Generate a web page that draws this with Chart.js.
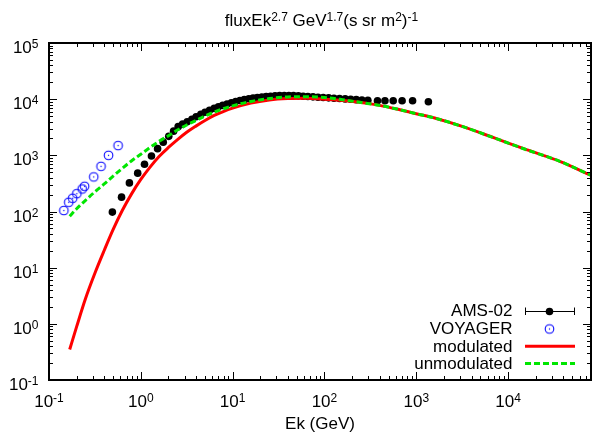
<!DOCTYPE html>
<html>
<head>
<meta charset="utf-8">
<script src="https://cdn.jsdelivr.net/npm/chart.js@4/dist/chart.umd.min.js"></script>
<style>
html,body{margin:0;padding:0;background:#fff;}
#wrap{width:597px;height:439px;position:relative;}
</style>
</head>
<body>
<div id="wrap"><canvas id="c"></canvas></div>
<script>
// ---- data ----
const amsE = [0.49,0.617,0.751,0.925,1.097,1.306,1.523,1.754,2.015,2.275,2.55,2.85,3.2,3.6,4.0,4.5,5.0,5.6,6.3,7.0,7.8,8.7,9.7,10.8,12.0,13.4,15.0,16.7,18.6,20.8,23.2,25.9,29.0,32.5,36.5,41,46,52,58.5,66,75,85,97,111,127,146,168,193,222,256,297,378,456,561,701,912,1355];
const amsF = [97.5,180,323,482,692,975,1315,1718,2178,2697,3243,3600,3950,4400,4850,5350,5850,6350,6850,7300,7750,8200,8650,9050,9450,9800,10150,10450,10700,10950,11150,11300,11450,11550,11600,11600,11550,11450,11300,11150,11000,10850,10700,10550,10400,10250,10100,9950,9800,9650,9550,9400,9400,9400,9400,9400,9000];

const voyE = [0.145,0.164,0.181,0.201,0.230,0.244,0.307,0.369,0.445,0.566];
const voyF = [104,146,172,208,252,281,413,637,1000,1489];

const modE = [0.168,0.2,0.25,0.316,0.4,0.5,0.63,0.79,1.0,1.26,1.58,2.0,2.51,3.16,3.98,5.0,6.3,7.9,10,15.8,25.1,39.8,63,100,158,251,398,631,1000,1585,3162,7079,15850,37150,79430];
const modF = [0.35,0.89,2.82,7.94,20.4,47.9,105,204,372,617,955,1380,1905,2570,3311,4169,5129,6026,6918,8511,9660,10230,10350,10000,9440,8710,7760,6610,5500,4620,3270,2040,1259,776,442];

const unmodE = [0.168,0.2,0.25,0.316,0.4,0.5,0.63,0.79,1.0,1.26,1.58,2.0,2.51,3.16,3.98,5.0,6.3,7.9,10,15.8,25.1,39.8,63,100,158,251,398,631,1000,1585,3162,7079,15850,37150,79430];
const unmodF = [82,112,158,224,309,427,589,794,1047,1380,1778,2239,2818,3467,4169,5012,5888,6761,7586,9120,10230,10960,11090,10720,9770,8710,7760,6610,5500,4620,3270,2040,1259,776,442];

const xTickExps = [-1,0,1,2,3,4];
const yTickExps = [-1,0,1,2,3,4,5];
const legendLabels = ['AMS-02','VOYAGER','modulated','unmodulated'];
const titleParts = [['fluxEk',0],['2.7',1],[' GeV',0],['1.7',1],['(s sr m',0],['2',1],[')',0],['-1',1]];
const xTitle = 'Ek (GeV)';

// ---- styling ----
const FONT = '"Liberation Sans", Arial, Helvetica, sans-serif';
const MAIN = '17px ' + FONT;
const SUP = '12px ' + FONT;
const GREEN = '#00e600';
const RED = '#ff0000';
const BLUE = '#0000ff';

function pts(xs, ys){ return xs.map((x,i)=>({x:x, y:ys[i]})); }

// Voyager marker: open circle with a centre dot
const voyImg = document.createElement('canvas');
voyImg.width = 13; voyImg.height = 13;
(function(){
  const g = voyImg.getContext('2d');
  g.strokeStyle = BLUE; g.lineWidth = 1.1;
  g.beginPath(); g.arc(6.5,6.5,4.3,0,Math.PI*2); g.stroke();
  g.fillStyle = BLUE;
  g.beginPath(); g.arc(6.5,6.5,0.7,0,Math.PI*2); g.fill();
})();

function richWidth(ctx, parts){
  let w = 0;
  for (const [t,s] of parts){ ctx.font = s ? SUP : MAIN; w += ctx.measureText(t).width; }
  return w;
}
function drawRich(ctx, parts, x, baseline){
  let cx = x;
  ctx.textAlign = 'left'; ctx.textBaseline = 'alphabetic';
  for (const [t,s] of parts){
    ctx.font = s ? SUP : MAIN;
    ctx.fillText(t, cx, s ? baseline - 5 : baseline);
    cx += ctx.measureText(t).width;
  }
}

const decor = {
  id: 'decor',
  afterDraw(chart){
    const ctx = chart.ctx;
    const a = chart.chartArea;
    const xs = chart.scales.x, ys = chart.scales.y;
    ctx.save();
    ctx.fillStyle = '#000'; ctx.strokeStyle = '#000';
    // ticks (inward, mirrored)
    ctx.lineWidth = 1;
    ctx.beginPath();
    for (let e = -1; e <= 4; e++){
      for (let k = 1; k <= 9; k++){
        const v = k * Math.pow(10, e);
        if (v < 0.1 || v > 80000) continue;
        const px = Math.round(xs.getPixelForValue(v)) + 0.5;
        const len = k === 1 ? 8 : 4;
        ctx.moveTo(px, a.bottom); ctx.lineTo(px, a.bottom - len);
        ctx.moveTo(px, a.top); ctx.lineTo(px, a.top + len);
      }
    }
    for (let e = -1; e <= 5; e++){
      for (let k = 1; k <= 9; k++){
        const v = k * Math.pow(10, e);
        if (v < 0.1 || v > 100000) continue;
        const py = Math.round(ys.getPixelForValue(v)) + 0.5;
        const len = k === 1 ? 8 : 4;
        ctx.moveTo(a.left, py); ctx.lineTo(a.left + len, py);
        ctx.moveTo(a.right, py); ctx.lineTo(a.right - len, py);
      }
    }
    ctx.stroke();
    // frame
    ctx.lineWidth = 2;
    ctx.strokeRect(a.left, a.top, a.right - a.left, a.bottom - a.top);

    // y tick labels
    for (const e of yTickExps){
      const parts = [['10',0],[String(e),1]];
      const w = richWidth(ctx, parts);
      const py = ys.getPixelForValue(Math.pow(10,e));
      drawRich(ctx, parts, 38.5 - w, py + 10);
    }
    // x tick labels
    for (const e of xTickExps){
      const parts = [['10',0],[String(e),1]];
      const w = richWidth(ctx, parts);
      const px = xs.getPixelForValue(Math.pow(10,e));
      drawRich(ctx, parts, px - w/2, 406.5);
    }
    // x title
    ctx.font = MAIN; ctx.textAlign = 'center'; ctx.textBaseline = 'alphabetic';
    ctx.fillText(xTitle, (a.left + a.right)/2, 428.5);
    // title
    const tw = richWidth(ctx, titleParts);
    drawRich(ctx, titleParts, 321.5 - tw/2, 25.5);

    // legend
    const tx = 512.5, sx0 = 525, sx1 = 575, sxc = 549.5;
    const bases = [316, 334, 351.7, 369.3];
    const mids = [311, 329, 346.2, 363.5];
    ctx.font = MAIN; ctx.textAlign = 'right'; ctx.textBaseline = 'alphabetic';
    legendLabels.forEach((t,i)=> ctx.fillText(t, tx, bases[i]));
    // AMS-02 errorbar symbol
    ctx.lineWidth = 1;
    ctx.beginPath();
    ctx.moveTo(sx0, mids[0]+0.5); ctx.lineTo(sx1, mids[0]+0.5);
    ctx.moveTo(sx0+0.5, mids[0]-3.5); ctx.lineTo(sx0+0.5, mids[0]+4);
    ctx.moveTo(sx1-0.5, mids[0]-3.5); ctx.lineTo(sx1-0.5, mids[0]+4);
    ctx.stroke();
    ctx.beginPath(); ctx.arc(sxc, mids[0]+0.5, 3.8, 0, Math.PI*2); ctx.fill();
    // Voyager symbol
    ctx.drawImage(voyImg, sxc - 6.5, mids[1] - 6.5);
    // modulated
    ctx.lineWidth = 3; ctx.strokeStyle = RED;
    ctx.beginPath(); ctx.moveTo(sx0, mids[2]); ctx.lineTo(sx1, mids[2]); ctx.stroke();
    // unmodulated
    ctx.strokeStyle = GREEN; ctx.setLineDash([6,3]);
    ctx.beginPath(); ctx.moveTo(sx0, mids[3]); ctx.lineTo(sx1, mids[3]); ctx.stroke();
    ctx.setLineDash([]);
    ctx.restore();
  }
};

new Chart(document.getElementById('c'), {
  type: 'scatter',
  data: {
    datasets: [
      { label: legendLabels[0], data: pts(amsE, amsF), backgroundColor: '#000', borderWidth: 0, pointRadius: 3.8, pointHoverRadius: 3.8, order: 4 },
      { label: legendLabels[1], data: pts(voyE, voyF), pointStyle: voyImg, pointRadius: 5, order: 3 },
      { label: legendLabels[2], data: pts(modE, modF), showLine: true, borderColor: RED, borderWidth: 3, pointRadius: 0, cubicInterpolationMode: 'monotone', order: 2 },
      { label: legendLabels[3], data: pts(unmodE, unmodF), showLine: true, borderColor: GREEN, borderWidth: 3, borderDash: [6,3], pointRadius: 0, cubicInterpolationMode: 'monotone', order: 1 }
    ]
  },
  options: {
    responsive: true,
    maintainAspectRatio: false,
    animation: false,
    devicePixelRatio: 1,
    layout: { padding: { top: 43, right: 1, left: 0, bottom: 0 } },
    plugins: { legend: { display: false }, tooltip: { enabled: false }, title: { display: false } },
    scales: {
      x: { type: 'logarithmic', min: 0.1, max: 80000, position: 'bottom',
           ticks: { display: false }, grid: { display: false }, border: { display: false },
           afterFit(s){ s.height = 59; } },
      y: { type: 'logarithmic', min: 0.1, max: 100000, position: 'left',
           ticks: { display: false }, grid: { display: false }, border: { display: false },
           afterFit(s){ s.width = 49; } }
    }
  },
  plugins: [decor]
});
</script>
</body>
</html>
